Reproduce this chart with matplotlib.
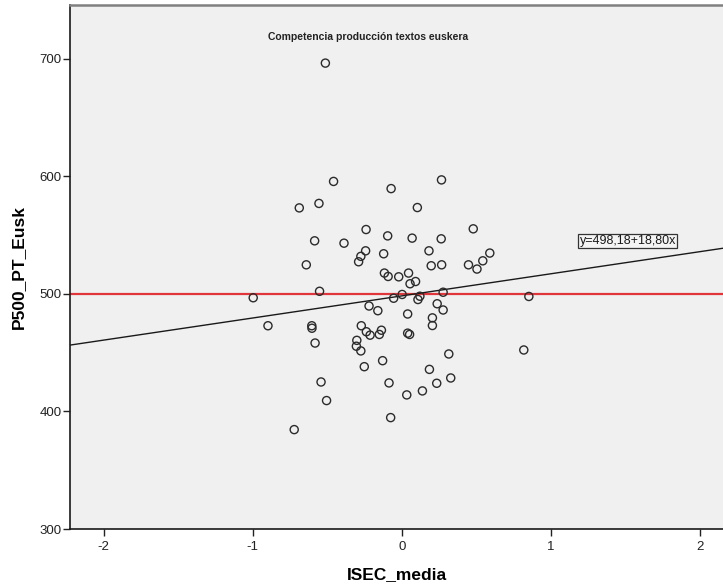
import matplotlib
matplotlib.use("Agg")
import matplotlib.pyplot as plt
import numpy as np

plt.rcParams['font.family'] = ['Liberation Sans', 'DejaVu Sans']
plt.rcParams['axes.unicode_minus'] = False

# ---- data ----
isec_media = [
    -0.512, -0.457, -0.687, -0.555, -0.584, -0.387, -0.640, -0.551, -0.996, -0.897,
    -0.603, -0.602, -0.581, -0.541, -0.504, -0.721, -0.071, 0.267, 0.105, -0.239,
    -0.094, 0.070, 0.265, 0.480, -0.242, -0.274, -0.289, -0.121, 0.183, 0.198,
    0.268, 0.448, 0.505, 0.544, 0.591, -0.116, -0.091, -0.020, 0.046, 0.056,
    0.093, 0.003, -0.054, 0.278, 0.122, 0.109, -0.219, -0.160, 0.040, 0.238,
    0.278, 0.206, 0.206, -0.271, -0.237, -0.212, -0.136, -0.150, 0.040, 0.053,
    -0.301, -0.304, -0.274, -0.251, -0.128, 0.316, 0.186, -0.085, 0.034, 0.139,
    0.235, 0.329, -0.074, 0.853, 0.819,
]
p500_pt_eusk = [
    696.1, 595.5, 573.0, 576.8, 545.0, 543.0, 524.6, 502.1, 496.6, 472.8,
    472.8, 470.7, 458.1, 425.0, 409.2, 384.5, 589.4, 596.8, 573.3, 554.6,
    549.2, 547.3, 546.7, 555.2, 536.5, 531.8, 527.2, 534.0, 536.5, 523.8,
    524.6, 524.6, 521.0, 528.0, 534.6, 517.6, 514.7, 514.4, 517.6, 508.5,
    510.4, 499.4, 496.2, 501.3, 497.9, 495.1, 489.6, 485.6, 482.8, 491.5,
    486.2, 479.5, 473.0, 472.8, 467.7, 464.8, 469.0, 465.4, 466.5, 465.4,
    460.4, 455.4, 451.4, 438.0, 443.1, 448.8, 435.7, 424.2, 414.0, 417.4,
    423.9, 428.4, 394.7, 497.7, 452.2,
]
fit_intercept = 498.18
fit_slope = 18.80
reference_level = 500
fit_label = "y=498,18+18,80x"
title_text = "Competencia producción textos euskera"
x_label = "ISEC_media"
y_label = "P500_PT_Eusk"
x_ticks = [-2, -1, 0, 1, 2]
y_ticks = [300, 400, 500, 600, 700]

# ---- figure ----
fig = plt.figure(figsize=(7.23, 5.87), dpi=100)
fig.patch.set_facecolor('white')
ax = fig.add_axes([70/723, 1 - 529/587, 653/723 + 0.002, 524/587])
ax.set_facecolor('#F0F0F0')

xlim = (-2.225, 2.165)
ax.set_xlim(*xlim)
ax.set_ylim(300, 745.5)

# reference line
ax.axhline(reference_level, color='#E0353B', lw=1.6, zorder=2)

# fit line
xs = np.array(xlim)
ax.plot(xs, fit_intercept + fit_slope * xs, color='#1a1a1a', lw=1.0, zorder=3)

# points
ax.scatter(isec_media, p500_pt_eusk, s=34, facecolors='none',
           edgecolors='#2b2b2b', linewidths=1.0, zorder=4)

# fit label box
ax.text(1.193, 545.0, fit_label, fontsize=9, ha='left', va='center',
        color='#1a1a1a',
        bbox=dict(boxstyle='square,pad=0.1', facecolor='#F4F4F4',
                  edgecolor='#333333', linewidth=0.9), zorder=5)

# title inside plot
ax.text(0.456, 0.939, title_text, transform=ax.transAxes, fontsize=7.5,
        fontweight='bold', ha='center', va='center', color='#222222')

ax.set_xticks(x_ticks)
ax.set_yticks(y_ticks)
ax.tick_params(axis='both', direction='out', length=5, width=1.0,
               labelsize=9.5, colors='#222222')
ax.tick_params(axis='x', pad=4)
ax.tick_params(axis='y', pad=1)

ax.spines['right'].set_visible(False)
ax.spines['top'].set_color('#808080')
ax.spines['top'].set_linewidth(1.8)
ax.spines['left'].set_color('#1a1a1a')
ax.spines['left'].set_linewidth(1.2)
ax.spines['bottom'].set_color('#1a1a1a')
ax.spines['bottom'].set_linewidth(1.2)

ax.set_xlabel(x_label, fontsize=12.5, fontweight='bold', labelpad=10)
ax.set_ylabel(y_label, fontsize=12.5, fontweight='bold', labelpad=10)

fig.savefig('out.png', dpi=100)
